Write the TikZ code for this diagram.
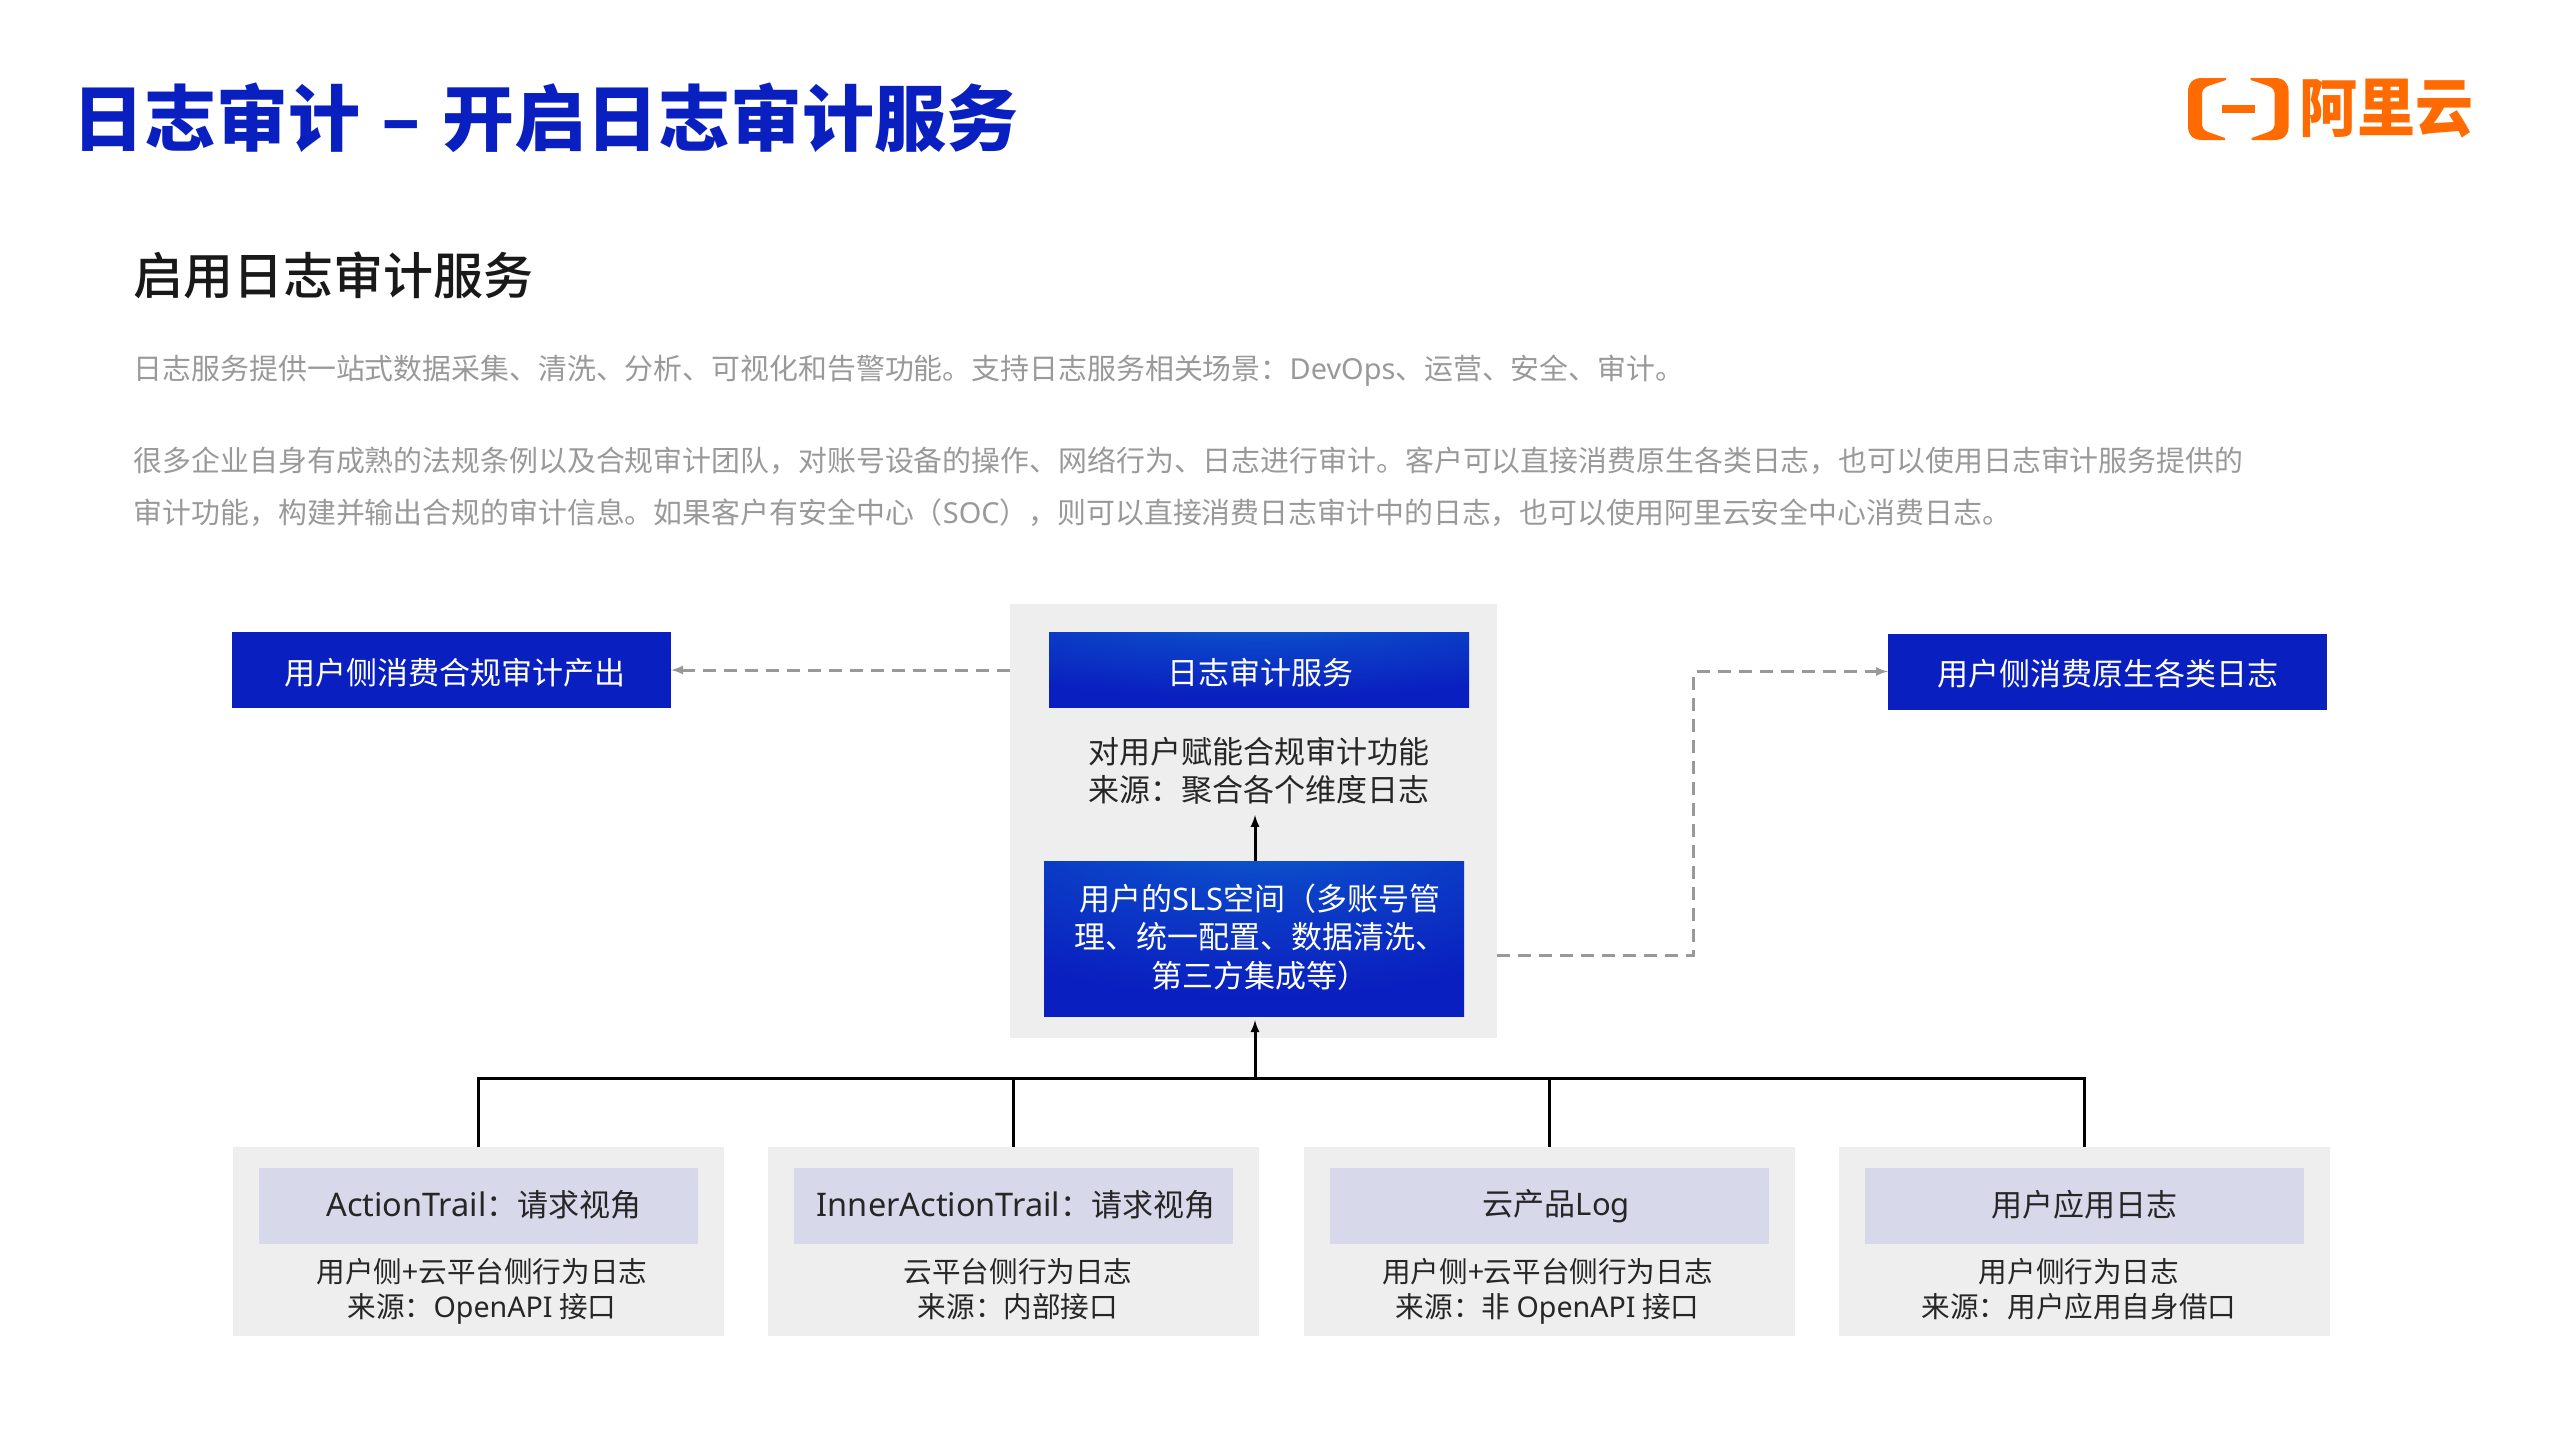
\documentclass[tikz,border=0pt]{standalone}
\usepackage{fontspec}
\setmainfont{Noto Sans CJK SC}
\newfontfamily\lat{Noto Sans}
\newfontfamily\heavy{Noto Sans CJK SC Black}
\newfontfamily\medium{Noto Sans CJK SC Medium}
\usetikzlibrary{arrows}
\usetikzlibrary{positioning}
\definecolor{mblue}{rgb}{0.04, 0.12, 0.75}
\definecolor{mglow}{rgb}{0.05, 0.47, 0.83}
\definecolor{mgrey}{rgb}{0.6, 0.6, 0.6}
\definecolor{mtext}{rgb}{0.6, 0.6, 0.6}
\definecolor{mpanel}{rgb}{0.933, 0.933, 0.937}
\definecolor{mhead}{rgb}{0.843, 0.847, 0.918}
\definecolor{morange}{rgb}{1, 0.42, 0}
\pgfdeclareradialshading{topglow}{\pgfpoint{0bp}{50bp}}{color(0bp)=(mglow); color(22bp)=(mblue!60!mglow); color(46bp)=(mblue); color(100bp)=(mblue)}
\newcommand{\headlat}[1]{{\lat\fontsize{32.5}{38}\selectfont #1}}
\tikzset{box/.style = {inner sep = 0, minimum width = #1, minimum height = 76}}
\tikzset{bluebox/.style = {box = 439, fill = mblue}}
\tikzset{glowbox/.style = {inner sep = 0, minimum width = 420, shading = topglow}}
\tikzset{panel/.style = {fill = mpanel, inner sep = 0}}
\tikzset{headbox/.style = {box = 439, fill = mhead}}
\tikzset{wtxt/.style = {white, font = \fontsize{31}{38.5}\selectfont, align = center, inner sep = 0}}
\tikzset{btxt/.style = {black!85, font = \fontsize{31}{38}\selectfont, align = center, inner sep = 0}}
\tikzset{stxt/.style = {black!85, font = \fontsize{28.6}{35}\selectfont, align = center, inner sep = 0}}
\tikzset{gtxt/.style = {mtext, font = \fontsize{28.9}{35}\selectfont, anchor = west, inner sep = 0}}
\tikzset{line/.style = {black, line width = 3}}
\tikzset{dashline/.style = {mgrey, line width = 3, dash pattern = on 13pt off 8pt}}
\begin{document}
\begin{tikzpicture}[x = 1pt, y = -1pt]
    \useasboundingbox (0, 0) rectangle (2560, 1440);

    \node [anchor = west, inner sep = 0, mblue, font = \fontsize{72}{80}\selectfont\heavy] (title) at (72, 118) {日志审计 \hspace{5pt}–\hspace{5pt} 开启日志审计服务};
    \node [anchor = west, inner sep = 0, black!90, font = \fontsize{50}{56}\selectfont\medium] (subtitle) at (133, 275) {启用日志审计服务};
    \node [gtxt] (para1) at (133.5, 370.5) {日志服务提供一站式数据采集、清洗、分析、可视化和告警功能。支持日志服务相关场景：{\lat DevOps}、运营、安全、审计。};
    \node [gtxt] (para2) at (133.5, 461) {很多企业自身有成熟的法规条例以及合规审计团队，对账号设备的操作、网络行为、日志进行审计。客户可以直接消费原生各类日志，也可以使用日志审计服务提供的};
    \node [gtxt] (para3) at (133.5, 513) {审计功能，构建并输出合规的审计信息。如果客户有安全中心（{\lat SOC}），则可以直接消费日志审计中的日志，也可以使用阿里云安全中心消费日志。};

    % logo
    \fill [morange] (2226, 78) -- (2202, 78) .. controls (2193, 78) and (2188, 83) .. (2188, 92) -- (2188, 126) .. controls (2188, 135) and (2193, 140) .. (2202, 140) -- (2225, 140) -- (2225, 138) -- (2208, 132) .. controls (2204, 130) and (2202, 128) .. (2202, 125) -- (2202, 93) .. controls (2202, 90) and (2204, 88) .. (2208, 86) -- (2226, 80) -- cycle;
    \begin{scope}[shift = {(4476.6, 0)}, x = -1pt]
      \fill [morange] (2226, 78) -- (2202, 78) .. controls (2193, 78) and (2188, 83) .. (2188, 92) -- (2188, 126) .. controls (2188, 135) and (2193, 140) .. (2202, 140) -- (2225, 140) -- (2225, 138) -- (2208, 132) .. controls (2204, 130) and (2202, 128) .. (2202, 125) -- (2202, 93) .. controls (2202, 90) and (2204, 88) .. (2208, 86) -- (2226, 80) -- cycle;
    \end{scope}
    \fill [morange] (2222, 105) rectangle (2255, 113);
    \node [morange, inner sep = 0, anchor = west, font = \fontsize{58}{62}\selectfont\bfseries] (brand) at (2299, 109) {\scalebox{1}[1.1]{阿里云}};

    % upper row
    \node [panel, minimum width = 487, minimum height = 434] (centre) at (1253.5, 821) {};
    \node [glowbox, minimum height = 75] (service) at (1259, 669.5) {};
    \node [wtxt] (servicetext) at (1260, 673) {日志审计服务};
    \node [btxt] (note) at (1259, 771) {对用户赋能合规审计功能\\来源：聚合各个维度日志};
    \node [glowbox, minimum height = 155] (sls) at (1254, 938.5) {};
    \node [wtxt] (slstext) at (1260, 937) {用户的{\lat SLS}空间（多账号管\\理、统一配置、数据清洗、\\第三方集成等）};
    \node [bluebox] (leftout) at (451.5, 670) {};
    \node [wtxt] (lefttext) at (455, 673) {用户侧消费合规审计产出};
    \node [bluebox] (rightout) at (2107.5, 671.5) {};
    \node [wtxt] (righttext) at (2108, 674) {用户侧消费原生各类日志};

    % lower row
    \node [panel, minimum width = 491, minimum height = 189] (act) at (478.5, 1241.5) {};
    \node [headbox] (acthead) at (478.5, 1206) {};
    \node [btxt] (acttext) at (484, 1205) {\headlat{ActionTrail}：请求视角};
    \node [stxt] (actnote) at (482, 1291) {用户侧+云平台侧行为日志\\来源：{\lat OpenAPI} 接口};

    \node [panel, minimum width = 491, minimum height = 189] (inner) at (1013.5, 1241.5) {};
    \node [headbox] (innerhead) at (1013.5, 1206) {};
    \node [btxt] (innertext) at (1016, 1205) {\headlat{InnerActionTrail}：请求视角};
    \node [stxt] (innernote) at (1018, 1289.5) {云平台侧行为日志\\来源：内部接口};

    \node [panel, minimum width = 491, minimum height = 189] (prod) at (1549, 1241.5) {};
    \node [headbox] (prodhead) at (1549.5, 1206) {};
    \node [btxt] (prodtext) at (1556.5, 1206.5) {云产品{\lat Log}};
    \node [stxt] (prodnote) at (1547.5, 1291) {用户侧+云平台侧行为日志\\来源：非 {\lat OpenAPI} 接口};

    \node [panel, minimum width = 491, minimum height = 189] (app) at (2084.5, 1241.5) {};
    \node [headbox] (apphead) at (2084.5, 1206) {};
    \node [btxt] (apptext) at (2084, 1205) {用户应用日志};
    \node [stxt] (appnote) at (2079, 1289.5) {用户侧行为日志\\来源：用户应用自身借口};

    % connectors
    \coordinate (junction) at (1255, 1078);
    \coordinate (notefoot) at (1255, 815);
    \coordinate (exitright) at (1497, 955);
    \coordinate (turnright) at (1693.5, 671.5);
    \draw [line] (act.north) -- (act.north |- junction) -- (app.north |- junction) -- (app.north);
    \draw [line] (inner.north) -- (inner.north |- junction);
    \draw [line] (prod.north) -- (prod.north |- junction);
    \draw [line, -latex, shorten > = 4] (junction) -- (junction |- sls.south);
    \draw [line, -latex] (junction |- sls.north) -- (notefoot);
    \draw [dashline, -latex] (centre.west |- leftout) -- (leftout.east);
    \draw [dashline, -latex] (exitright) -| (turnright) -- (rightout.west);
\end{tikzpicture}
\end{document}
